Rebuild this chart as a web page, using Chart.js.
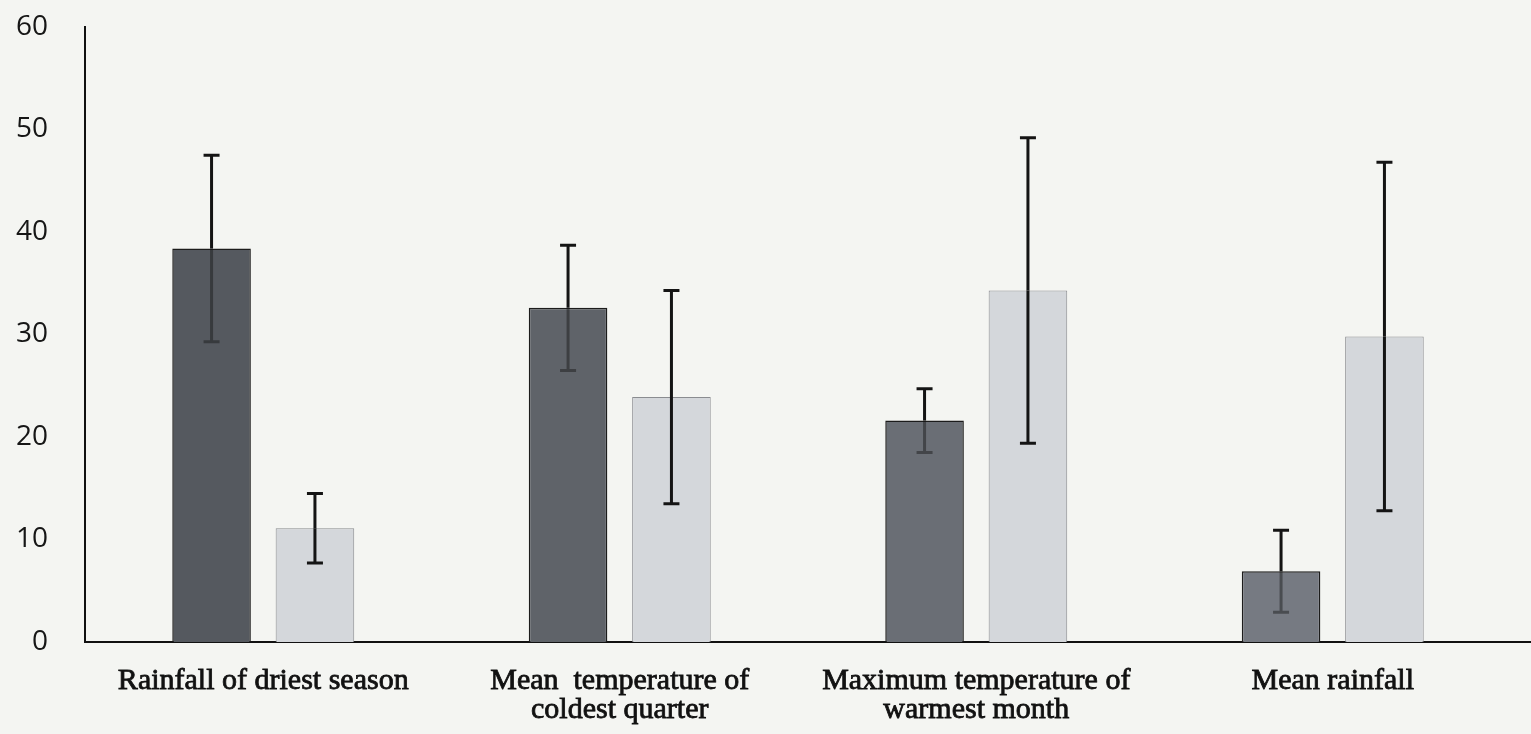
<!DOCTYPE html>
<html>
<head>
<meta charset="utf-8">
<script src="https://cdn.jsdelivr.net/npm/chart.js@4.4.1/dist/chart.umd.min.js"></script>
<style>
  html, body { margin: 0; padding: 0; background: #f4f5f2; }
  #wrap { width: 1531px; height: 734px; position: relative; }
</style>
</head>
<body>
<div id="wrap"><canvas id="climateBars"></canvas></div>
<script>
const categories = [
  'Rainfall of driest season',
  ['Mean  temperature of', 'coldest quarter'],
  ['Maximum temperature of', 'warmest month'],
  'Mean rainfall'
];
const darkMeans = [38.4, 32.6, 21.6, 6.9];
const darkErrors = [9.1, 6.1, 3.1, 4.0];
const lightMeans = [11.1, 23.9, 34.3, 29.8];
const lightErrors = [3.4, 10.4, 14.9, 17.0];
const yTicks = [0, 10, 20, 30, 40, 50, 60];

// paper-coloured backdrop behind everything
const backdrop = {
  id: 'backdrop',
  beforeDraw(chart) {
    const { ctx } = chart;
    ctx.save();
    ctx.fillStyle = '#f4f5f2';
    ctx.fillRect(0, 0, chart.width, chart.height);
    ctx.restore();
  },
};

// whiskers: mean +/- error, with caps
const errorBars = {
  id: 'errorBars',
  afterDatasetsDraw(chart) {
    const { ctx } = chart;
    const y = chart.scales.y;
    chart.data.datasets.forEach((ds, i) => {
      const meta = chart.getDatasetMeta(i);
      meta.data.forEach((bar, j) => {
        const v = ds.data[j];
        const e = ds.errors[j];
        const top = y.getPixelForValue(v + e);
        const bottom = y.getPixelForValue(v - e);
        const x = bar.x;
        ctx.save();
        ctx.strokeStyle = '#141414';
        ctx.lineWidth = 3;
        ctx.beginPath();
        ctx.moveTo(x, top);
        ctx.lineTo(x, bar.y);
        ctx.moveTo(x - 8, top);
        ctx.lineTo(x + 8, top);
        ctx.stroke();
        // part that runs over the bar itself
        ctx.globalAlpha = ds.innerAlpha;
        ctx.beginPath();
        ctx.moveTo(x, bar.y);
        ctx.lineTo(x, bottom);
        ctx.moveTo(x - 8, bottom);
        ctx.lineTo(x + 8, bottom);
        ctx.stroke();
        ctx.restore();
      });
    });
  },
};

// baseline keeps going to the right edge
const baseline = {
  id: 'baseline',
  afterDraw(chart) {
    const { ctx, chartArea } = chart;
    const y0 = chart.scales.y.getPixelForValue(0);
    ctx.save();
    ctx.strokeStyle = '#111';
    ctx.lineWidth = 2;
    ctx.beginPath();
    ctx.moveTo(chartArea.right - 1, y0);
    ctx.lineTo(chart.width, y0);
    ctx.stroke();
    ctx.restore();
  },
};

const ctx = document.getElementById('climateBars').getContext('2d');
new Chart(ctx, {
  type: 'bar',
  data: {
    labels: categories,
    datasets: [
      {
        label: 'Series 1',
        data: darkMeans,
        errors: darkErrors,
        innerAlpha: 0.45,
        backgroundColor: ['#55595f', '#5f6369', '#6a6e75', '#767a82'],
        borderColor: '#1c1c1c',
        borderWidth: 1.5,
      },
      {
        label: 'Series 2',
        data: lightMeans,
        errors: lightErrors,
        innerAlpha: 1,
        backgroundColor: '#d4d7db',
        borderColor: '#8a8c90',
        borderWidth: 1,
      },
    ],
  },
  options: {
    responsive: true,
    maintainAspectRatio: false,
    animation: false,
    layout: {
      padding: { top: 27, right: 20, bottom: 0, left: 0 },
    },
    datasets: {
      bar: {
        categoryPercentage: 0.58,
        barPercentage: 0.76,
      },
    },
    plugins: {
      legend: { display: false },
      tooltip: { enabled: false },
    },
    scales: {
      x: {
        afterFit(axis) {
          axis.height = 92;
          axis.paddingLeft = 0;
          axis.paddingRight = 0;
        },
        grid: { display: false, drawTicks: false },
        border: { display: true, color: '#111', width: 2 },
        ticks: {
          padding: 24,
          color: '#111',
          maxRotation: 0,
          autoSkip: false,
          textStrokeColor: '#111',
          textStrokeWidth: 0.8,
          font: { family: '"Liberation Serif", "DejaVu Serif", serif', size: 30, lineHeight: 0.98 },
        },
      },
      y: {
        min: 0,
        max: 60,
        afterBuildTicks(axis) {
          axis.ticks = yTicks.map((v) => ({ value: v }));
        },
        afterFit(axis) {
          axis.width = 85;
          axis.paddingTop = 0;
          axis.paddingBottom = 0;
        },
        grid: { display: false, drawTicks: false },
        border: { display: true, color: '#111', width: 2 },
        ticks: {
          padding: 37,
          color: '#161616',
          font: { family: '"Open Sans", "Noto Sans", sans-serif', size: 28 },
        },
      },
    },
  },
  plugins: [backdrop, errorBars, baseline],
});
</script>
</body>
</html>
